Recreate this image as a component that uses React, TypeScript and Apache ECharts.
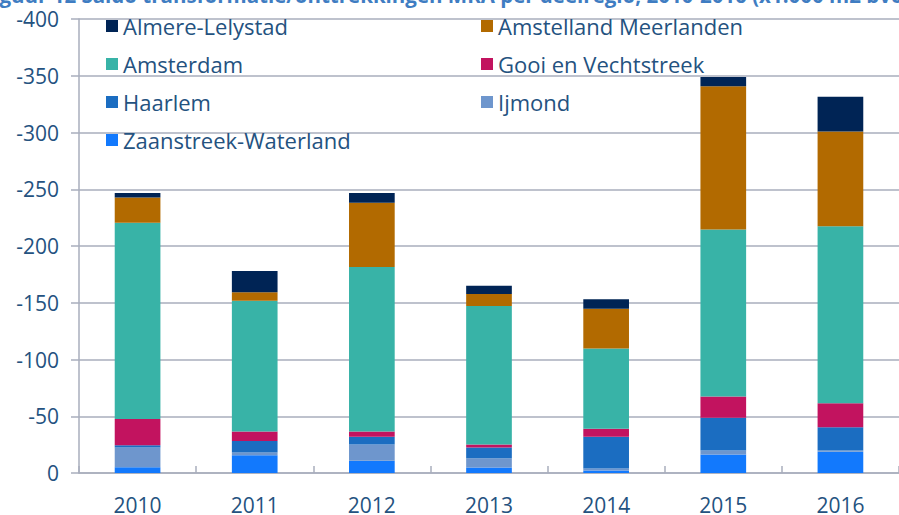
import React, { useEffect, useRef } from "react";
import * as echarts from "echarts";

const years = ["2010", "2011", "2012", "2013", "2014", "2015", "2016"];

const zaanstreek = [-5, -15.7, -10.7, -4.8, -2.2, -16.3, -18.7];
const ijmond = [-17.5, -2.3, -14.4, -8.2, -1.8, -3.5, -1.1];
const haarlem = [-2, -10.3, -6.8, -9.4, -27.9, -28.8, -20.5];
const gooi = [-23, -8.2, -4.6, -2.7, -7, -18.7, -21.1];
const amsterdam = [-173, -115.3, -145, -122.1, -70.7, -147.3, -155.9];
const amstelland = [-22.3, -7.4, -56.6, -10.5, -35.2, -126.2, -83.6];
const almere = [-4, -18.8, -8.5, -7.3, -8.2, -8.2, -30.5];

const yTicks = { min: -400, max: 0, interval: 50 };

const titleText =
  "Figuur 12 Saldo transformatie/onttrekkingen MRA per deelregio, 2010-2016 (x1.000 m2 bvo)";

const seriesDefs = [
  { name: "Zaanstreek-Waterland", data: zaanstreek, color: "#1279FD" },
  { name: "Ijmond", data: ijmond, color: "#6E96CD" },
  { name: "Haarlem", data: haarlem, color: "#1B6DC1" },
  { name: "Gooi en Vechtstreek", data: gooi, color: "#C2135F" },
  { name: "Amsterdam", data: amsterdam, color: "#38B3A7" },
  { name: "Amstelland Meerlanden", data: amstelland, color: "#B26A00" },
  { name: "Almere-Lelystad", data: almere, color: "#002455" },
];

const legendCol1 = ["Almere-Lelystad", "Amsterdam", "Haarlem", "Zaanstreek-Waterland"];
const legendCol2 = ["Amstelland Meerlanden", "Gooi en Vechtstreek", "Ijmond"];

const FONT = "'Open Sans', 'Noto Sans', sans-serif";
const TEXT_COLOR = "#24527F";
const GRID_COLOR = "#A9AEBC";

export default function App() {
  const ref = useRef<HTMLDivElement>(null);

  useEffect(() => {
    if (!ref.current) return;
    const chart = echarts.init(ref.current, undefined, { renderer: "svg" });
    const legendBase = {
      orient: "vertical" as const,
      top: 14,
      padding: 0,
      itemWidth: 12,
      itemHeight: 12,
      itemGap: 14,
      icon: "rect",
      textStyle: { color: TEXT_COLOR, fontSize: 22, fontFamily: FONT, lineHeight: 24 },
    };
    chart.setOption({
      animation: false,
      backgroundColor: "#ffffff",
      graphic: [
        {
          type: "text",
          left: -18,
          top: -16,
          style: {
            text: titleText,
            fontSize: 20.5,
            fontWeight: "bold",
            fontFamily: FONT,
            fill: "#3F7DC2",
          },
        },
      ],
      legend: [
        { ...legendBase, left: 106, data: legendCol1 },
        { ...legendBase, left: 481, data: legendCol2 },
      ],
      grid: { left: 79, right: -8, top: 19, bottom: 40.5 },
      xAxis: {
        type: "category",
        data: years,
        axisLine: { show: true, lineStyle: { color: GRID_COLOR, width: 1.5 } },
        axisTick: { show: true, inside: true, length: 7, lineStyle: { color: GRID_COLOR, width: 1.5 } },
        axisLabel: { color: TEXT_COLOR, fontSize: 21, fontFamily: FONT, margin: 21 },
        splitLine: { show: false },
      },
      yAxis: {
        type: "value",
        inverse: true,
        min: yTicks.min,
        max: yTicks.max,
        interval: yTicks.interval,
        axisLine: { show: true, lineStyle: { color: GRID_COLOR, width: 1.5 } },
        axisTick: { show: true, length: 8, lineStyle: { color: GRID_COLOR, width: 1.5 } },
        axisLabel: { color: TEXT_COLOR, fontSize: 21, fontFamily: FONT, margin: 20 },
        splitLine: { show: true, lineStyle: { color: GRID_COLOR, width: 1.5 } },
      },
      series: seriesDefs.map((s) => ({
        name: s.name,
        type: "bar",
        stack: "total",
        barWidth: "39%",
        data: s.data,
        itemStyle: { color: s.color },
      })),
    });
    return () => chart.dispose();
  }, []);

  return (
    <div
      ref={ref}
      style={{ position: "absolute", left: 0, top: 0, width: 899, height: 515 }}
    />
  );
}
